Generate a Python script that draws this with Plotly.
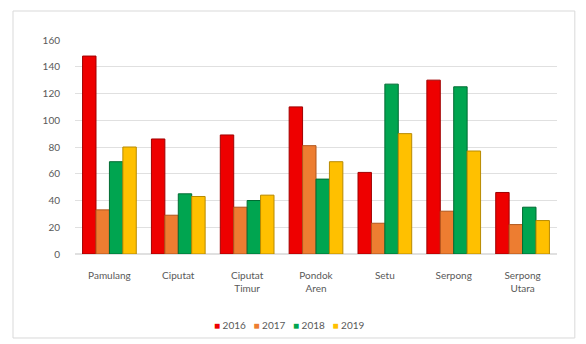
import plotly.graph_objects as go

categories = ["Pamulang", "Ciputat", "Ciputat<br>Timur", "Pondok<br>Aren", "Setu", "Serpong", "Serpong<br>Utara"]
years = ["2016", "2017", "2018", "2019"]
v2016 = [148, 86, 89, 110, 61, 130, 46]
v2017 = [33, 29, 35, 81, 23, 32, 22]
v2018 = [69, 45, 40, 56, 127, 125, 35]
v2019 = [80, 43, 44, 69, 90, 77, 25]
series = [v2016, v2017, v2018, v2019]
colors = ["#EE0000", "#ED7D31", "#00A550", "#FFC000"]
edges = ["#A00000", "#B0561C", "#006B33", "#B88A00"]

fig = go.Figure()
for name, vals, c, e in zip(years, series, colors, edges):
    fig.add_trace(go.Bar(x=categories, y=vals, name=name, showlegend=False,
                         marker=dict(color=c, line=dict(color=e, width=1))))

legend_text = "&nbsp;&nbsp;&nbsp;".join(
    f'<span style="color:{c}">■</span> {y}' for y, c in zip(years, colors))

fig.update_layout(
    width=586, height=344,
    margin=dict(l=75, r=29, t=40, b=90),
    paper_bgcolor="white", plot_bgcolor="white",
    barmode="group", bargap=0.22, bargroupgap=0.0,
    font=dict(family="Lato", size=10, color="#595959"),
    xaxis=dict(showgrid=False, showline=False, ticks="", ticklabelstandoff=14,
               tickfont=dict(size=10, color="#595959")),
    yaxis=dict(range=[0, 160], dtick=20, showgrid=True, gridcolor="#E0E0E0", gridwidth=1,
               zeroline=True, zerolinecolor="#E0E0E0", ticks="", ticklen=0,
               tickfont=dict(size=10, color="#595959"), ticklabelstandoff=14),
    annotations=[dict(text=legend_text, xref="paper", yref="paper", x=0.446, y=-0.33,
                      xanchor="center", yanchor="middle", showarrow=False,
                      font=dict(size=10, color="#595959"))],
    shapes=[dict(type="rect", xref="paper", yref="paper",
                 x0=-0.1286, x1=1.037, y0=-0.3925, y1=1.1355,
                 line=dict(color="#D9D9D9", width=1), fillcolor="rgba(0,0,0,0)", layer="below")],
)

fig.write_html("out.html")
